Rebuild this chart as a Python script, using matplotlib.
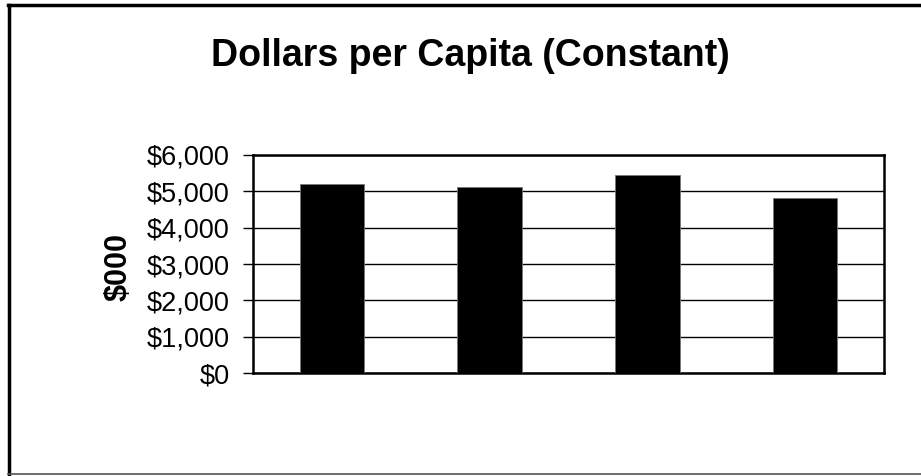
import numpy as np
import matplotlib.pyplot as plt
from matplotlib.lines import Line2D
from matplotlib.ticker import FuncFormatter

plt.rcParams['font.family'] = ['Liberation Sans', 'DejaVu Sans']

# data
categories = ['A', 'B', 'C', 'D']
values = [5190, 5110, 5440, 4825]
yticks = [0, 1000, 2000, 3000, 4000, 5000, 6000]

W, H = 921, 476
fig = plt.figure(figsize=(W / 100, H / 100), dpi=100)
ax = fig.add_axes([253 / W, 1 - 373 / H, 631 / W, 218 / H])

x = np.arange(len(categories))
ax.bar(x, values, width=0.41, color='black', edgecolor='#777777', linewidth=0.6, zorder=3)

ax.set_xlim(-0.5, len(categories) - 0.5)
ax.set_ylim(0, 6000)
ax.set_yticks(yticks)
ax.yaxis.set_major_formatter(FuncFormatter(lambda v, p: '${:,.0f}'.format(v)))
ax.set_xticks([])
ax.tick_params(axis='y', length=7, width=1, pad=10, labelsize=19.5, direction='out')
ax.grid(axis='y', color='black', linewidth=1, zorder=1)
for s in ax.spines.values():
    s.set_linewidth(1.8)
    s.set_color('black')

# y axis title
fig.text(119 / W, 1 - 267 / H, '$000', fontsize=22, fontweight='bold', rotation=90,
         ha='center', va='center')

fig.text(470 / W, 1 - 66 / H, 'Dollars per Capita (Constant)', fontsize=27,
         fontweight='bold', ha='center', va='baseline')

# outer frame (top and left dark, bottom light grey)
fig.add_artist(Line2D([8 / W, 1], [1 - 5 / H, 1 - 5 / H], color='black', linewidth=2.5,
                      transform=fig.transFigure))
fig.add_artist(Line2D([9 / W, 9 / W], [1 - 5 / H, 1 - 474 / H], color='black', linewidth=2.5,
                      transform=fig.transFigure))
fig.add_artist(Line2D([8 / W, 1], [1 - 473.5 / H, 1 - 473.5 / H], color='#555555', linewidth=1.2,
                      transform=fig.transFigure))

fig.savefig('out.png', dpi=100)
